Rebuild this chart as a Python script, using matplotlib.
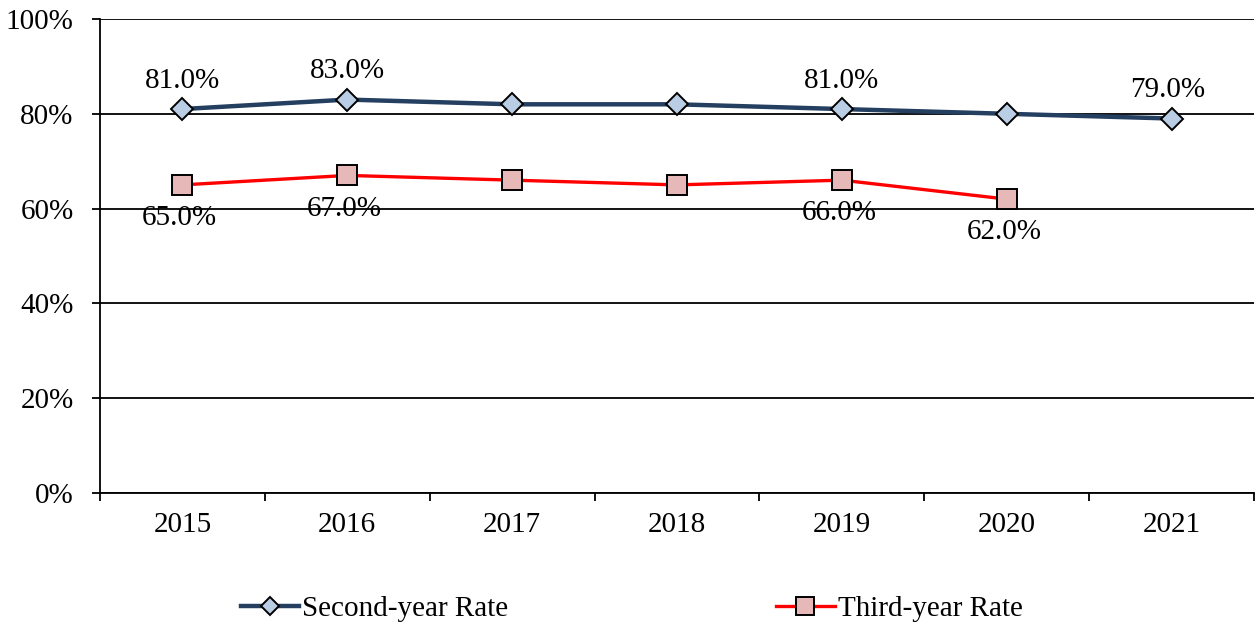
import numpy as np
import matplotlib.pyplot as plt
from matplotlib.ticker import FuncFormatter, FixedLocator

plt.rcParams['font.family'] = ['Liberation Serif', 'DejaVu Serif']

# data
years = ['2015', '2016', '2017', '2018', '2019', '2020', '2021']
second_rate = [81, 83, 82, 82, 81, 80, 79]
third_rate = [65, 67, 66, 65, 66, 62]
second_labelled = [0, 1, 4, 6]   # points that carry a value label
third_labelled = [0, 1, 4, 5]

FS = 21

fig = plt.figure(figsize=(12.58, 6.23), dpi=100)
ax = fig.add_axes([0.0795, 0.2087, 0.9173, 0.7608])

x2 = np.arange(len(second_rate))
x3 = np.arange(len(third_rate))

ax.plot(x2, second_rate, color='#243F60', lw=3.2, marker='D', ms=11,
        mfc='#B9CDE5', mec='black', mew=1.4, zorder=4, label='Second-year Rate')
ax.plot(x3, third_rate, color='#FF0000', lw=2.4, marker='s', ms=15,
        mfc='#E6B9B8', mec='black', mew=1.4, zorder=4, label='Third-year Rate')

for i in second_labelled:
    ax.annotate(f'{second_rate[i]:.1f}%', (x2[i], second_rate[i]),
                xytext=(-3 if i == 6 else 0, 20.5), textcoords='offset points',
                ha='center', va='center', fontsize=FS)
for i in third_labelled:
    ax.annotate(f'{third_rate[i]:.1f}%', (x3[i], third_rate[i]),
                xytext=(-2, -24), textcoords='offset points',
                ha='center', va='center', fontsize=FS)

ax.set_xlim(-0.5, len(years) - 0.5)
ax.set_ylim(0, 100)
ax.set_yticks(np.arange(0, 101, 20))
ax.yaxis.set_major_formatter(FuncFormatter(lambda v, p: f'{v:.0f}%'))
ax.yaxis.grid(True, color='black', lw=1.3)
ax.set_axisbelow(True)

# category axis: labels at centres, tick marks between categories
ax.set_xticks(x2)
ax.set_xticklabels(years)
ax.xaxis.set_minor_locator(FixedLocator(np.arange(-0.5, len(years), 1.0)))
ax.tick_params(axis='x', which='major', length=0, pad=14, labelsize=FS)
ax.tick_params(axis='x', which='minor', length=6, width=1.3, direction='out')
ax.tick_params(axis='y', length=6, width=1.3, direction='out', pad=13, labelsize=FS)

for s in ['top', 'right']:
    ax.spines[s].set_visible(False)
for s in ['left', 'bottom']:
    ax.spines[s].set_linewidth(1.3)
    ax.spines[s].set_color('black')

fig.legend(loc='center', bbox_to_anchor=(0.502, 0.023), ncol=2, frameon=False,
           fontsize=FS, handlelength=2.0, handletextpad=0.1, columnspacing=9.2,
           markerscale=0.85)

fig.savefig('out.png', dpi=100)
